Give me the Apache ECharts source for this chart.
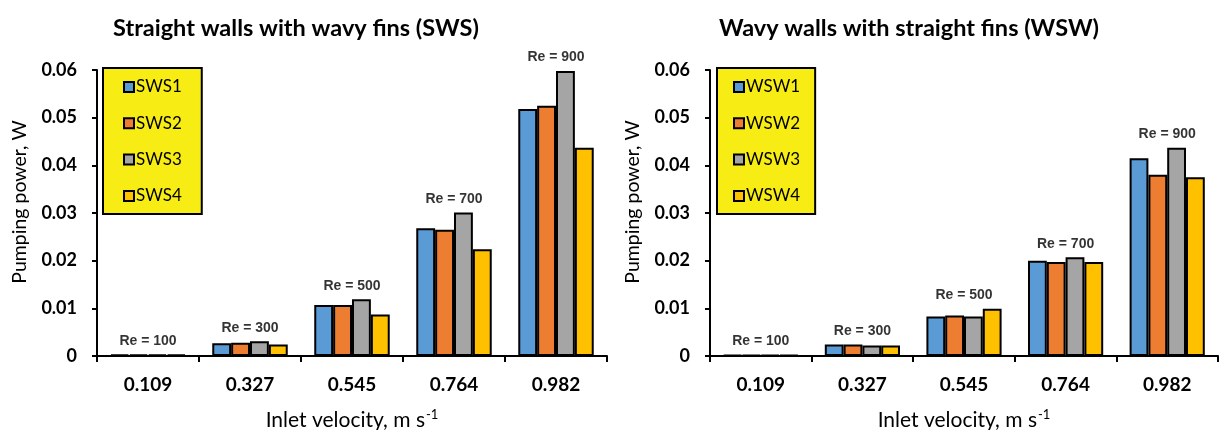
<!DOCTYPE html>
<html>
<head>
<meta charset="utf-8">
<script src="https://cdn.jsdelivr.net/npm/echarts@6/dist/echarts.min.js"></script>
<style>
html,body{margin:0;padding:0;background:#fff;}
#chart{width:1219px;height:430px;}
</style>
</head>
<body>
<div id="chart"></div>
<script>
const categories = ['0.109', '0.327', '0.545', '0.764', '0.982'];
const reLabels = ['Re = 100', 'Re = 300', 'Re = 500', 'Re = 700', 'Re = 900'];
const yTicks = [0, 0.01, 0.02, 0.03, 0.04, 0.05, 0.06];

const swsNames = ['SWS1', 'SWS2', 'SWS3', 'SWS4'];
const sws1 = [0.0003, 0.0027, 0.0107, 0.0268, 0.0518];
const sws2 = [0.0003, 0.0028, 0.0107, 0.0265, 0.0525];
const sws3 = [0.0003, 0.0031, 0.0119, 0.0301, 0.0598];
const sws4 = [0.0003, 0.0024, 0.0087, 0.0224, 0.0437];

const wswNames = ['WSW1', 'WSW2', 'WSW3', 'WSW4'];
const wsw1 = [0.0002, 0.0024, 0.0083, 0.0200, 0.0415];
const wsw2 = [0.0002, 0.0024, 0.0085, 0.0197, 0.0380];
const wsw3 = [0.0002, 0.0022, 0.0083, 0.0207, 0.0437];
const wsw4 = [0.0002, 0.0022, 0.0099, 0.0197, 0.0375];

const colors = ['#5B9BD5', '#ED7D31', '#A5A5A5', '#FFC000'];
const FONT = 'Lato, "Open Sans", sans-serif';

function barSeries(names, arrays, idx) {
  return arrays.map((d, i) => ({
    name: names[i],
    type: 'bar',
    xAxisIndex: idx, yAxisIndex: idx,
    data: d,
    barGap: '0%',
    barCategoryGap: '26%',
    itemStyle: { color: colors[i], borderColor: '#000', borderWidth: 2 },
    silent: true
  }));
}
function reSeries(arrays, idx) {
  const tops = categories.map((c, k) => Math.max(...arrays.map(a => a[k])));
  return {
    type: 'scatter',
    xAxisIndex: idx, yAxisIndex: idx,
    symbolSize: 1,
    itemStyle: { color: 'rgba(0,0,0,0)' },
    silent: true,
    data: tops.map((v, k) => ({ value: v, label: { formatter: reLabels[k] } })),
    label: {
      show: true, position: 'top', distance: 6,
      fontFamily: '"Liberation Sans", Arial, sans-serif',
      fontWeight: 'bold', fontSize: 14, color: '#000'
    },
    z: 5
  };
}
function xAxis(idx) {
  return {
    type: 'category', gridIndex: idx, data: categories,
    axisLine: { lineStyle: { color: '#000', width: 2 } },
    axisTick: { show: true, length: 6, lineStyle: { color: '#000', width: 2 } },
    axisLabel: { color: '#000', fontFamily: FONT, fontWeight: 'bold', fontSize: 19, margin: 19 },
    name: '{a|Inlet velocity, m s}{b|-1}',
    nameLocation: 'middle', nameGap: 52,
    nameTextStyle: {
      rich: {
        a: { fontFamily: FONT, fontSize: 21, color: '#000', lineHeight: 25 },
        b: { fontFamily: FONT, fontSize: 13, color: '#000', verticalAlign: 'top', lineHeight: 25, padding: [0,0,0,1] }
      }
    }
  };
}
function yAxis(idx) {
  return {
    type: 'value', gridIndex: idx,
    min: yTicks[0], max: yTicks[yTicks.length - 1], interval: 0.01,
    axisLine: { show: true, lineStyle: { color: '#000', width: 2 } },
    axisTick: { show: true, length: 5, lineStyle: { color: '#000', width: 2 } },
    splitLine: { show: false },
    axisLabel: {
      color: '#000', fontFamily: FONT, fontWeight: 'bold', fontSize: 18, margin: 20,
      formatter: v => (v === 0 ? '0' : v.toFixed(2))
    },
    name: 'Pumping power, W',
    nameLocation: 'middle', nameGap: 67,
    nameTextStyle: { fontFamily: FONT, fontSize: 19.5, color: '#000', padding: [0, 0, 0, 22] }
  };
}
function legend(names, left, padding) {
  return {
    data: names, orient: 'vertical', left: left, top: 68,
    backgroundColor: '#F7EC13', borderColor: '#000', borderWidth: 2, borderRadius: 0,
    padding: padding, itemGap: 18.3, itemWidth: 10, itemHeight: 10,
    icon: 'rect',
    textStyle: { fontFamily: FONT, fontSize: 17, color: '#000', lineHeight: 18, padding: [0,0,0,-3] },
    selectedMode: false
  };
}

const chart = echarts.init(document.getElementById('chart'), null, { renderer: 'canvas' });
chart.setOption({
  animation: false,
  backgroundColor: '#fff',
  title: [
    { text: 'Straight walls with wavy fins (SWS)', left: 291, top: 11, textAlign: 'center',
      textStyle: { fontFamily: FONT, fontWeight: 'bold', fontSize: 23.5, color: '#000' } },
    { text: 'Wavy walls with straight fins (WSW)', left: 904, top: 11, textAlign: 'center',
      textStyle: { fontFamily: FONT, fontWeight: 'bold', fontSize: 23.5, color: '#000' } }
  ],
  legend: [
    legend(swsNames, 103, [10, 20, 9, 20]),
    legend(wswNames, 717, [10, 15, 9, 16])
  ],
  grid: [
    { left: 97, top: 70, width: 510, height: 286, containLabel: false, outerBoundsMode: 'none' },
    { left: 710, top: 70, width: 508, height: 286, containLabel: false, outerBoundsMode: 'none' }
  ],
  xAxis: [xAxis(0), xAxis(1)],
  yAxis: [yAxis(0), yAxis(1)],
  series: [
    ...barSeries(swsNames, [sws1, sws2, sws3, sws4], 0),
    ...barSeries(wswNames, [wsw1, wsw2, wsw3, wsw4], 1),
    reSeries([sws1, sws2, sws3, sws4], 0),
    reSeries([wsw1, wsw2, wsw3, wsw4], 1)
  ]
});
</script>
</body>
</html>
